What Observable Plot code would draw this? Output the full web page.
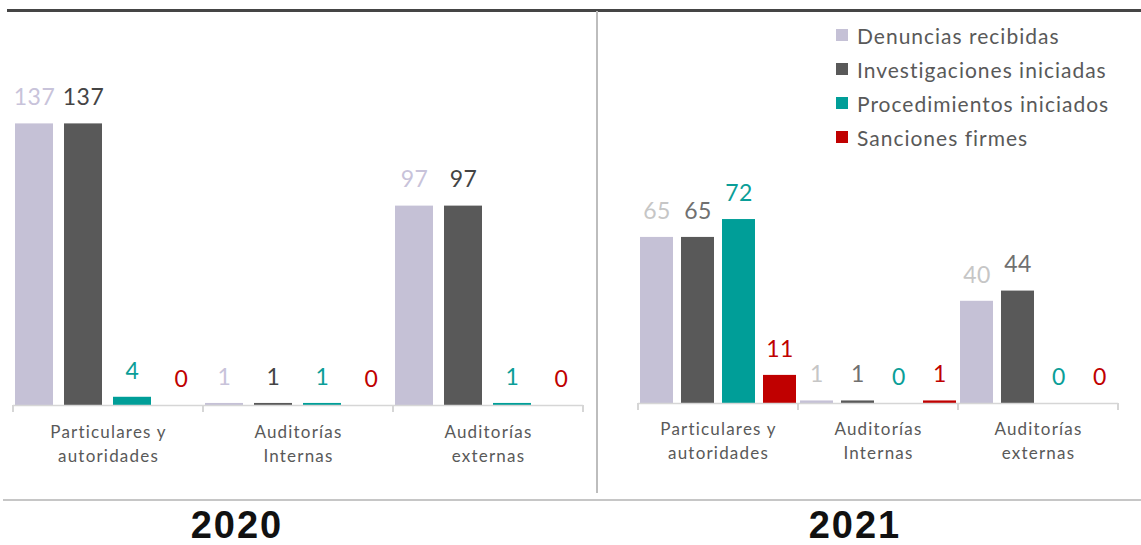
<!DOCTYPE html>
<html>
<head>
<meta charset="utf-8">
<script src="https://cdn.jsdelivr.net/npm/d3@7"></script>
<script src="https://cdn.jsdelivr.net/npm/@observablehq/plot@0.6"></script>
<style>
html, body { margin: 0; padding: 0; background: #fff; }
#wrap { position: relative; width: 1141px; height: 545px; overflow: hidden; font-family: Lato, sans-serif; }
.topline { position: absolute; left: 7px; right: 0; top: 9px; height: 3px; background: #454545; }
.vline { position: absolute; left: 596px; top: 11px; width: 2px; height: 482px; background: #bdbdbd; }
.bline { position: absolute; left: 3px; right: 0; top: 499px; height: 2px; background: #c6c6c6; }
.year { position: absolute; top: 507px; height: 36px; line-height: 36px; width: 200px; text-align: center; font-family: "Liberation Sans", Arial, sans-serif; font-weight: bold; font-size: 38px; letter-spacing: 2px; color: #111; }
#p2020 { position: absolute; left: 0; top: 0; }
#p2021 { position: absolute; left: 597px; top: 0; }
#p2020 svg, #p2021 svg { overflow: visible; }
.vlabel { letter-spacing: 0.5px; }
.catax text { letter-spacing: 1.2px; }
#legend { position: absolute; left: 836px; top: 18px; }
.leg-swatches { margin: 0 !important; min-height: 0 !important; }
.leg-swatch { height: 34px; margin: 0 !important; padding: 0 !important; display: flex; align-items: center; letter-spacing: 1px; }
.leg-swatch svg { margin-right: 9px !important; }
</style>
</head>
<body>
<div id="wrap">
  <div class="topline"></div>
  <div class="vline"></div>
  <div class="bline"></div>
  <div id="p2020"></div>
  <div id="p2021"></div>
  <div id="legend"></div>
  <div class="year" style="left:137px">2020</div>
  <div class="year" style="left:755px">2021</div>
</div>
<script>
// ---- data ----
const grupos = ["Particulares y\nautoridades", "Auditorías\nInternas", "Auditorías\nexternas"];
const series = ["Denuncias recibidas", "Investigaciones iniciadas", "Procedimientos iniciados", "Sanciones firmes"];
// values per group (rows) and series (columns)
const valores2020 = [[137, 137, 4, 0], [1, 1, 1, 0], [97, 97, 1, 0]];
const valores2021 = [[65, 65, 72, 11], [1, 1, 0, 1], [40, 44, 0, 0]];
const barColors = ["#c5c1d6", "#595959", "#009e98", "#c00000"];
const labelColors2020 = ["#c8c3da", "#444444", "#0a9e98", "#c00000"];
const labelColors2021 = ["#c6c6c6", "#707070", "#0a9e98", "#c00000"];

function boundaryTicks(index, scales, values, dimensions) {
  const y0 = scales.y(0);
  const g = d3.create("svg:g").attr("stroke", "#d6d6d6").attr("stroke-width", 2);
  for (const x of [dimensions.marginLeft, dimensions.width - dimensions.marginRight]) {
    g.append("line").attr("x1", x).attr("x2", x).attr("y1", y0).attr("y2", y0 + 7);
  }
  return g.node();
}

function panel(vals, labelColors, o) {
  const data = [];
  grupos.forEach((g, i) => series.forEach((s, j) =>
    data.push({grupo: g, serie: s, valor: vals[i][j], color: barColors[j]})));
  return Plot.plot({
    width: o.width,
    height: 480,
    marginLeft: o.ml,
    marginRight: o.mr,
    marginTop: 20,
    marginBottom: o.mb,
    fx: {domain: grupos, padding: 0, label: null},
    x: {domain: series, paddingInner: o.pi, paddingOuter: o.po, axis: null},
    y: {domain: [0, o.ymax], axis: null},
    color: {type: "identity"},
    style: {fontFamily: "Lato, sans-serif", background: "transparent", overflow: "visible"},
    marks: [
      Plot.barY(data, {fx: "grupo", x: "serie", y: "valor", fill: "color"}),
      Plot.ruleY([0], {stroke: "#d6d6d6", strokeWidth: 1.5}),
      boundaryTicks,
      ...series.map((s, j) => Plot.text(data.filter(d => d.serie === s), {
        fx: "grupo", x: "serie", y: "valor", text: d => String(d.valor),
        fill: labelColors[j], dy: -26, fontSize: 23, className: "vlabel"
      })),
      Plot.axisFx({anchor: "bottom", tickSize: 0, tickPadding: o.tp, fontSize: 17, lineHeight: 1.4,
        color: "#595959", label: null, className: "catax"})
    ]
  });
}

document.getElementById("p2020").append(panel(valores2020, labelColors2020,
  {width: 597, ml: 13, mr: 14, mb: 75, pi: 0.22, po: 0.03, ymax: 187.3, tp: 16}));
document.getElementById("p2021").append(panel(valores2021, labelColors2021,
  {width: 544, ml: 40, mr: 22, mb: 77, pi: 0.2, po: 0.05, ymax: 149.9, tp: 15}));

document.getElementById("legend").append(Plot.legend({
  color: {domain: series, range: barColors},
  legend: "swatches",
  columns: 1,
  swatchSize: 12,
  className: "leg",
  style: {fontSize: "21px", fontFamily: "Lato, sans-serif", color: "#595959"}
}));
</script>
</body>
</html>
